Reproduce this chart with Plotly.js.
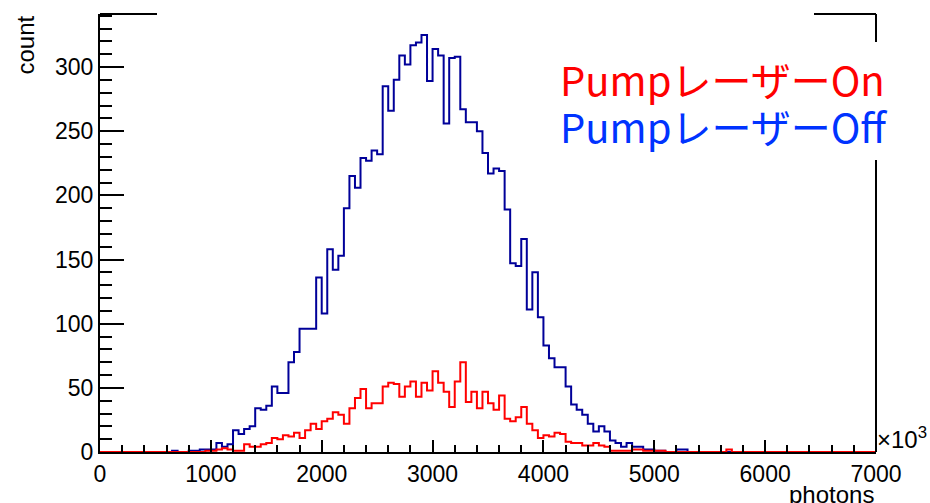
<!DOCTYPE html>
<html>
<head>
<meta charset="utf-8">
<script src="https://cdn.plot.ly/plotly-3.0.1.min.js"></script>
<style>html,body{margin:0;padding:0;background:#fff;}#chart{width:930px;height:503px;}</style>
</head>
<body>
<div id="chart"></div>
<script>
// histogram binning (x in units of 10^3 photons)
const binLow = 0;
const binWidth = 50;
const xMax = 7000;

// Pump laser Off (blue), 140 bins
const countsOff = [
  0,0,0,0,0,0,0,0,0,0,
  0,0,0,1,0,0,1,1,2,2,
  2,7,4,6,17,14,18,20,34,33,
  36,51,46,46,70,78,96,96,96,136,
  108,158,142,153,190,215,206,229,227,235,
  232,285,266,290,309,302,317,319,325,289,
  314,309,256,307,308,267,257,257,250,233,
  217,221,219,189,147,145,166,111,140,105,
  83,73,66,66,51,37,33,29,22,16,
  20,16,9,7,4,7,4,4,2,2,
  1,1,0,0,2,2,0,0,0,0,
  0,0,0,0,0,0,0,0,0,0,
  0,0,0,0,0,0,0,0,0,0,
  0,0,0,0,0,0,0,0,0,0
];

// Pump laser On (red), 140 bins
const countsOn = [
  0,0,0,0,0,0,0,0,0,0,
  0,0,0,0,0,0,0,0,0,1,
  1,2,3,2,1,1,6,4,4,6,
  7,11,10,13,12,15,11,17,22,18,
  24,26,31,29,22,34,42,49,34,38,
  38,51,54,53,43,51,55,43,54,48,
  63,54,47,35,55,70,39,47,34,47,
  38,33,44,26,24,27,35,22,17,11,
  13,12,15,14,8,7,7,5,5,7,
  5,4,1,1,1,1,2,2,1,1,
  1,1,0,0,0,0,0,0,0,0,
  0,0,0,2,0,0,0,0,0,0,
  0,0,0,0,0,0,0,0,0,0,
  0,0,0,0,0,0,0,0,0,0
];

const legendLabels = ["PumpレーザーOn", "PumpレーザーOff"];
const xTitle = "photons";
const yTitle = "count";
const xExponent = "×10<sup>3</sup>";

function stepTrace(counts, color) {
  const x = counts.map((_, i) => binLow + i * binWidth);
  x.push(binLow + counts.length * binWidth);
  const y = counts.slice();
  y.push(counts[counts.length - 1]);
  return {
    type: 'scatter', mode: 'lines', x: x, y: y,
    line: {shape: 'hv', color: color, width: 2},
    hoverinfo: 'skip', showlegend: false
  };
}

const traces = [stepTrace(countsOff, '#000099'), stepTrace(countsOn, '#ff0000')];

const L = 100, R = 876, T = 14, B = 452;
const W = R - L, H = B - T;
const px = v => (v - L) / W;
const py = v => (B - v) / H;
const font = 'Liberation Sans, Arial, sans-serif';

const layout = {
  width: 930, height: 503,
  margin: {l: L, r: 930 - R, t: T, b: 503 - B, pad: 0},
  paper_bgcolor: '#fff', plot_bgcolor: '#fff',
  showlegend: false,
  font: {family: font, color: '#000', size: 23},
  xaxis: {
    range: [0, xMax], tick0: 0, dtick: 1000,
    showline: true, linecolor: '#000', linewidth: 2,
    ticks: 'inside', ticklen: 12, tickwidth: 2, tickcolor: '#000',
    minor: {dtick: 200, tick0: 0, ticks: 'inside', ticklen: 7, tickwidth: 2, tickcolor: '#000'},
    showgrid: false, zeroline: false,
    tickfont: {family: font, size: 23, color: '#000'}
  },
  yaxis: {
    range: [0, 341.3], tick0: 0, dtick: 50,
    showline: true, linecolor: '#000', linewidth: 2,
    ticks: 'inside', ticklen: 24, tickwidth: 2, tickcolor: '#000',
    minor: {dtick: 10, tick0: 0, ticks: 'inside', ticklen: 12, tickwidth: 2, tickcolor: '#000'},
    showgrid: false, zeroline: false,
    tickfont: {family: font, size: 23, color: '#000'}
  },
  shapes: [
    {type: 'line', xref: 'paper', yref: 'paper', x0: 0, x1: px(157), y0: 1, y1: 1, line: {color: '#000', width: 2}},
    {type: 'line', xref: 'paper', yref: 'paper', x0: px(814), x1: 1, y0: 1, y1: 1, line: {color: '#000', width: 2}},
    {type: 'line', xref: 'paper', yref: 'paper', x0: 1, x1: 1, y0: 1, y1: py(42), line: {color: '#000', width: 2}},
    {type: 'line', xref: 'paper', yref: 'paper', x0: 1, x1: 1, y0: py(160), y1: 0, line: {color: '#000', width: 2}}
  ],
  annotations: [
    {text: legendLabels[0], xref: 'paper', yref: 'paper', x: px(558), y: py(79), xanchor: 'left', yanchor: 'middle', showarrow: false,
     font: {family: 'Noto Sans CJK JP', size: 40, color: '#ff0000'}},
    {text: legendLabels[1], xref: 'paper', yref: 'paper', x: px(558), y: py(126), xanchor: 'left', yanchor: 'middle', showarrow: false,
     font: {family: 'Noto Sans CJK JP', size: 40, color: '#0033ff'}},
    {text: yTitle, xref: 'paper', yref: 'paper', x: px(25), y: py(14), xanchor: 'center', yanchor: 'top', textangle: -90, showarrow: false,
     font: {family: font, size: 24, color: '#000'}},
    {text: xTitle, xref: 'paper', yref: 'paper', x: 1, y: py(494), xanchor: 'right', yanchor: 'middle', showarrow: false,
     font: {family: font, size: 24, color: '#000'}},
    {text: xExponent, xref: 'paper', yref: 'paper', x: px(875), y: py(438), xanchor: 'left', yanchor: 'middle', showarrow: false,
     font: {family: font, size: 24, color: '#000'}}
  ]
};

Plotly.newPlot('chart', traces, layout, {displayModeBar: false, staticPlot: true});
</script>
</body>
</html>
